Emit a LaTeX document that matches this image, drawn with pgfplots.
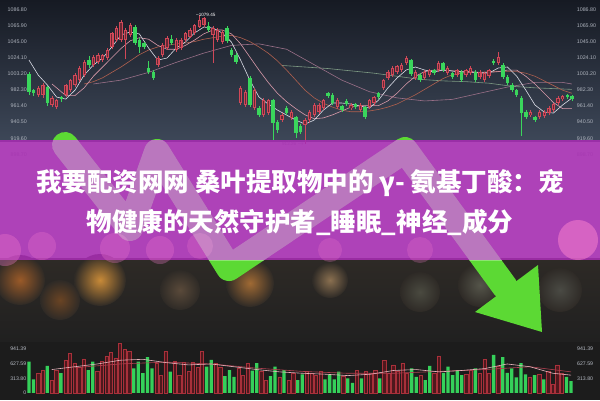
\documentclass[border=0pt]{standalone}
\usepackage{pgfplots}
\pgfplotsset{compat=1.18}
\usepackage{pgfplotstable}
\usepackage{fontspec}
\setmainfont{Liberation Sans}
\newfontfamily\cjk{Noto Sans CJK SC}
\definecolor{bgtop}{HTML}{161A23}
\definecolor{bgbot}{HTML}{3D4758}
\definecolor{bandc}{HTML}{A52DB0}
\definecolor{lowtop}{HTML}{2E2A26}
\definecolor{lowbot}{HTML}{202020}
\definecolor{volbg}{HTML}{1C1C1C}
\definecolor{cgreen}{HTML}{3AD65C}
\definecolor{cred}{HTML}{D04858}
\definecolor{cinner}{HTML}{6A2834}
\definecolor{arrowg}{HTML}{5CD934}
\definecolor{labc}{HTML}{AEB3BD}
\definecolor{mawhite}{HTML}{DADCE6}
\definecolor{mapink}{HTML}{D99AAA}
\definecolor{mabrown}{HTML}{B0604E}
\definecolor{mamauve}{HTML}{9A7088}
\definecolor{magreen}{HTML}{7E9A84}
\definecolor{vred}{HTML}{A8303A}
\definecolor{vredfill}{HTML}{4E181D}
\definecolor{vgreen}{HTML}{35D05A}
\definecolor{vma1}{HTML}{B04050}
\definecolor{vma2}{HTML}{E8B4BC}
\definecolor{bk1}{HTML}{9A5A28}
\definecolor{bk2}{HTML}{C88A38}
\definecolor{bk3}{HTML}{6A4424}
\definecolor{bk4}{HTML}{5A4A3A}
\definecolor{bk5}{HTML}{A06A34}
\definecolor{bk6}{HTML}{8A7050}
\definecolor{bk7}{HTML}{4A4A40}
\definecolor{bk8}{HTML}{55554A}
\definecolor{bk9}{HTML}{4A4A44}
\definecolor{pk1}{HTML}{F27ACD}
\definecolor{pk2}{HTML}{FF86CF}

\pgfplotstableread{
i t b h l
2 984.7 975.6 987 973
3 988.6 975.6 991 972
5 971.7 962.7 974 960
6 969.2 960.1 971 957
8 988.6 975.6 990 973
9 995.1 982.1 997 980
10 1001.6 988.6 1004 986
11 1010.7 995.1 1013 993
12 1018.4 1001.6 1021 999
14 1024.9 1014.6 1027 1012
15 1027.5 1018.4 1030 1016
16 1027.5 1021.0 1029 1019
17 1034.0 1023.6 1036 1021
18 1056.1 1037.9 1058 1035
19 1062.5 1047.0 1065 1045
20 1070.3 1047.0 1073 1044
21 1060.0 1047.0 1062 1023
22 1066.4 1053.5 1069 1051
28 1023.6 1014.6 1026 1012
29 1040.5 1027.5 1043 1025
30 1049.6 1036.6 1052 1034
32 1047.0 1034.0 1049 1032
33 1047.0 1036.6 1050 1034
34 1056.1 1047.0 1058 1045
35 1060.0 1050.9 1062 1049
36 1066.4 1056.1 1068 1054
37 1072.9 1063.8 1079.45 1062
38 1075.5 1066.4 1077 1064
40 1062.5 1053.5 1065 1017
41 1060.0 1047.0 1062 1045
42 1057.4 1044.4 1060 1042
46 984.7 965.3 987 963
47 979.5 962.7 982 960
49 982.1 958.8 985 956
51 969.2 949.7 972 947
52 969.2 952.3 971 950
55 949.7 943.2 952 941
57 953.6 945.8 956 943
60 943.2 936.7 946 912.26
61 953.6 943.2 956 940
62 962.7 949.7 965 947
63 962.7 953.6 965 951
64 969.2 958.8 971 956
67 969.2 960.1 972 958
70 962.7 958.8 965 956
72 962.7 956.2 965 954
74 969.2 960.1 971 957
75 973.0 965.3 975 963
77 995.1 984.7 997 982
78 1005.5 997.7 1008 995
79 1010.7 1001.6 1013 999
80 1013.3 1005.5 1015 1003
81 1014.6 1008.1 1017 1006
82 1023.6 1017.1 1026 1015
84 1005.5 997.7 1008 995
86 1005.5 997.7 1008 995
87 1008.1 1001.6 1010 999
89 1017.1 1008.1 1020 1006
91 1010.7 1004.2 1013 1002
93 1008.1 1001.6 1010 999
95 1008.1 1001.6 1010 999
96 1010.7 1004.2 1013 1002
98 1005.5 999.0 1008 997
99 1004.2 995.1 1006 993
100 1008.1 1000.3 1010 998
102 1024.9 1017.1 1031 1015
109 953.6 949.7 956 947
111 953.6 947.1 956 945
112 953.6 948.4 956 946
113 958.8 952.3 961 950
114 964.0 956.2 966 954
115 971.7 965.3 974 963
116 974.3 970.4 976 968
}\redc

\pgfplotstableread{
i t b h l
0 1002.9 979.5 1006 976
1 982.1 978.2 984 975
4 986.0 965.3 988 962
7 973.0 970.4 975 967
13 1021.0 1014.6 1026 1011
23 1063.8 1043.1 1067 1041
24 1047.0 1037.9 1049 1030
25 1043.1 1037.9 1045 1035
26 1010.7 1005.5 1020 1003
27 1005.5 997.7 1008 995
31 1048.3 1043.1 1053 1040
39 1065.1 1060.0 1070 1058
43 1062.5 1045.7 1065 1043
44 1034.0 1027.5 1036 1025
45 1027.5 1018.4 1030 1016
48 997.7 962.7 1000 960
50 958.8 949.7 961 947
53 969.2 939.3 971 917
54 940.6 930.3 943 927
56 958.8 952.3 961 950
58 947.1 926.4 949 920
59 935.4 927.7 938 925
65 978.2 974.3 980 972
66 975.6 965.3 978 963
68 961.4 956.2 963 954
69 967.9 964.0 970 962
71 964.0 960.1 966 958
73 960.1 947.1 962 945
76 978.2 973.0 980 971
83 1021.0 1002.9 1023 1000
85 1001.6 995.1 1004 993
88 1008.1 1004.2 1010 1002
90 1017.1 1008.1 1019 1006
92 1004.2 999.0 1006 997
94 1005.5 995.1 1008 993
97 1005.5 995.1 1008 993
101 1019.7 1017.1 1022 1015
103 1014.6 999.0 1017 997
104 999.0 991.2 1001 989
105 988.6 982.1 991 980
106 982.1 975.6 984 973
107 971.7 952.3 974 923
108 953.6 947.1 956 944
110 947.1 943.2 949 941
117 975.6 973.0 977 971
118 974.3 970.4 976 968
}\greenc

\pgfplotstableread{
j v
2 418
3 480
5 272
6 490
8 708
9 854
10 643
11 560
12 730
15 453
16 671
17 780
18 876
19 752
20 1056
21 926
22 889
28 636
29 381
30 889
32 671
33 381
34 650
35 453
36 650
37 540
38 889
41 636
42 540
46 527
47 381
48 636
51 453
52 272
55 344
57 272
58 418
61 453
62 418
63 381
64 453
69 360
72 475
74 453
75 418
76 490
78 693
79 418
80 600
81 453
82 636
83 418
86 381
89 418
90 795
96 400
97 490
99 418
100 723
101 418
103 562
110 344
112 400
114 453
115 190
116 600
117 430
}\redv

\pgfplotstableread{
j v
0 671
1 287
4 577
7 425
13 490
14 671
23 527
24 671
25 425
26 767
27 527
31 453
39 562
40 708
43 360
44 490
45 344
49 475
50 636
53 360
54 562
56 490
59 272
60 397
65 287
66 397
67 287
68 453
70 309
71 214
73 309
77 309
84 527
85 344
87 272
88 577
91 431
92 562
93 381
94 490
95 381
98 527
102 817
104 767
105 431
106 527
107 331
108 636
109 397
111 381
113 287
118 344
119 250
}\greenv

\pgfplotsset{
  canvas/.style={at={(0pt,0pt)}, anchor=south west, scale only axis,
    width=600pt, height=400pt, xmin=0, xmax=600, ymin=0, ymax=400,
    y dir=reverse, hide axis},
  pricebase/.style={anchor=south west, at={(27.62pt,230pt)}, scale only axis,
    width=546.48pt, height=170pt, xmin=-0.3, xmax=118.5, ymin=878.5, ymax=1098.85,
    axis line style={draw=none}, xtick=\empty, major tick length=0pt,
    ytick={898.7,919.6,940.5,961.4,982.3,1003.2,1024.1,1045,1065.9,1086.8},
    yticklabel style={font=\fontsize{5.3}{6}\selectfont, text=labc, inner sep=0pt},
    /pgf/number format/fixed, /pgf/number format/fixed zerofill,
    /pgf/number format/precision=2, /pgf/number format/1000 sep={},
    /pgf/number format/assume math mode=true},
  volbase/.style={anchor=south west, at={(27pt,3pt)}, scale only axis,
    width=547pt, height=55pt, xmin=-0.439, xmax=119.65, ymin=-90, ymax=1092,
    axis line style={draw=none}, xtick=\empty, major tick length=0pt,
    yticklabel style={font=\fontsize{5.2}{6}\selectfont, text=labc!90!white, inner sep=0pt},
    /pgf/number format/assume math mode=true},
  wick/.style={no markers, draw=none, forget plot, error bars/.cd, y dir=both, y explicit,
    error mark=none, error bar style={line width=0.6pt, draw=#1}},
  body/.style 2 args={no markers, draw=none, forget plot, error bars/.cd, y dir=both, y explicit,
    error mark=none, error bar style={line width=#2, draw=#1}},
}

\begin{document}
\begin{tikzpicture}
\path[use as bounding box] (0,0) rectangle (600pt,400pt);

% background
\begin{axis}[canvas]
\shade[top color=bgtop, bottom color=bgbot] (axis cs:0,0) rectangle (axis cs:600,141);
\shade[top color=lowtop, bottom color=lowbot] (axis cs:0,258) rectangle (axis cs:600,342);
\fill[volbg] (axis cs:0,342) rectangle (axis cs:600,400);
\shade[inner color=bk1, outer color=lowtop] (axis cs:20,280) circle[radius=25];
\shade[inner color=bk2, outer color=lowtop] (axis cs:100,280) circle[radius=26];
\shade[inner color=bk3, outer color=lowtop] (axis cs:60,300) circle[radius=20];
\shade[inner color=bk4, outer color=lowtop] (axis cs:180,290) circle[radius=20];
\shade[inner color=bk5, outer color=lowtop] (axis cs:250,283) circle[radius=24];
\shade[inner color=bk6, outer color=lowtop] (axis cs:330,280) circle[radius=18];
\shade[inner color=bk7, outer color=lowtop] (axis cs:420,292) circle[radius=20];
\shade[inner color=bk8, outer color=lowtop] (axis cs:480,285) circle[radius=22];
\shade[inner color=bk9, outer color=lowtop] (axis cs:560,290) circle[radius=22];
\end{axis}

% price panel (left labels, candles, averages)
\begin{axis}[pricebase, yticklabel pos=left, clip=false,
  yticklabel style={anchor=east, xshift=-0.6pt}]
\addplot[magreen, line width=0.6pt] coordinates {(55,1014) (60,1012) (65,1010) (70,1007) (75,1004) (80,1000) (85,996) (90,994) (95,993) (100,991) (105,987) (110,985) (118,983)};
\addplot[mamauve, line width=0.6pt] coordinates {(14,990) (20,995) (26,1005) (32,1018) (38,1030) (44,1040) (50,1042) (56,1035) (62,1015) (68,995) (74,980) (80,972) (86,968) (92,970) (98,978) (104,986) (110,992) (116,992) (118,990)};
\addplot[mabrown, line width=0.6pt] coordinates {(12,990) (14,993) (16,998) (18,1005) (20,1012) (22,1020) (24,1028) (26,1034) (28,1038) (30,1040) (32,1042) (34,1043) (36,1045) (38,1048) (40,1050) (42,1052) (44,1053) (46,1050) (48,1045) (50,1038) (52,1030) (54,1020) (56,1008) (58,995) (60,982) (62,972) (64,965) (66,960) (68,956) (70,954) (72,954) (74,955) (76,957) (78,960) (80,964) (82,970) (84,976) (86,983) (88,990) (90,997) (92,1002) (94,1004) (96,1005) (98,1005) (100,1006) (102,1006) (104,1006) (106,1006) (108,1004) (110,1000) (112,994) (114,988) (116,982) (118,978)};
\addplot[mapink, line width=0.6pt] coordinates {(5,990) (8,975) (10,975) (12,985) (14,1000) (16,1012) (18,1024) (20,1036) (22,1046) (24,1050) (26,1048) (28,1040) (30,1035) (32,1035) (34,1040) (36,1047) (38,1055) (40,1060) (42,1060) (44,1055) (46,1042) (48,1025) (50,1008) (52,992) (54,978) (56,967) (58,958) (60,950) (62,945) (64,946) (66,950) (68,955) (70,960) (72,962) (74,962) (76,962) (78,968) (80,978) (82,990) (84,1000) (86,1006) (88,1008) (90,1008) (92,1007) (94,1006) (96,1006) (98,1005) (100,1005) (102,1006) (104,1008) (106,1008) (108,1000) (110,990) (112,978) (114,966) (116,958) (118,958)};
\addplot[mawhite, line width=0.6pt] coordinates {(0,1021) (2,1001.6) (4,988.6) (6,973) (8,970.4) (10,982) (12,1001.6) (14,1014.6) (16,1023.6) (18,1037.9) (20,1053.5) (22,1057.4) (24,1054.8) (26,1036.6) (28,1021) (30,1023.6) (32,1036.6) (34,1044.4) (36,1056.1) (38,1063.8) (40,1062.5) (42,1056.1) (44,1044.4) (46,1021) (48,995.1) (50,973) (52,964) (54,956.2) (56,949.7) (58,943.2) (60,938) (62,943.2) (64,956.2) (66,965.3) (68,965.3) (70,964) (72,961.4) (74,958.8) (76,969.2) (78,984.7) (80,997.7) (82,1008.1) (84,1012) (86,1008.1) (88,1005.5) (90,1008.1) (92,1006.8) (94,1005.5) (96,1005.5) (98,1004.2) (100,1004.2) (102,1010.7) (104,1012) (106,1000.3) (108,982.1) (110,962.7) (112,953.6) (114,952.3) (116,962.7) (118,971.7)};
\addplot[wick=cred] table[x=i, y expr={(\thisrow{h}+\thisrow{l})/2}, y error expr={(\thisrow{h}-\thisrow{l})/2}] {\redc};
\addplot[wick=cgreen] table[x=i, y expr={(\thisrow{h}+\thisrow{l})/2}, y error expr={(\thisrow{h}-\thisrow{l})/2}] {\greenc};
\addplot[body={cred}{3.4pt}] table[x=i, y expr={(\thisrow{t}+\thisrow{b})/2}, y error expr={(\thisrow{t}-\thisrow{b})/2}] {\redc};
\addplot[body={cinner}{1.2pt}] table[x=i, y expr={(\thisrow{t}+\thisrow{b})/2}, y error expr={max((\thisrow{t}-\thisrow{b})/2-1.0,0.01)}] {\redc};
\addplot[body={cgreen}{3.4pt}] table[x=i, y expr={(\thisrow{t}+\thisrow{b})/2}, y error expr={(\thisrow{t}-\thisrow{b})/2}] {\greenc};
\node[anchor=west, inner sep=0.5pt, text=white, font=\fontsize{4.6}{5}\selectfont] at (axis cs:36.2,1079.45) {\textendash 1079.45};
\node[anchor=east, inner sep=0.5pt, text=labc, font=\fontsize{4.6}{5}\selectfont] at (axis cs:60,912.26) {912.26 $\rightarrow$};
\end{axis}

\begin{axis}[pricebase, yticklabel pos=right,
  yticklabel style={anchor=west, xshift=2.6pt}]
\end{axis}

% volume panel
\begin{axis}[volbase, yticklabel pos=left,
  ytick={0,313.8,627.59,941.39}, yticklabels={0,313.80,627.59,941.39},
  yticklabel style={anchor=east, xshift=-0.6pt}]
\addplot[ybar, bar width=3.3pt, bar shift=0pt, fill=vredfill, draw=vred, line width=0.5pt] table[x=j, y=v] {\redv};
\addplot[ybar, bar width=3.3pt, bar shift=0pt, fill=vgreen, draw=none] table[x=j, y=v] {\greenv};
\addplot[vma1, line width=0.6pt] coordinates {(10,540) (20,620) (30,660) (40,620) (50,530) (60,460) (70,420) (80,420) (90,460) (100,500) (110,560) (119,450)};
\addplot[vma2, line width=0.6pt] coordinates {(5,500) (10,560) (15,620) (20,700) (25,720) (30,650) (35,600) (40,620) (45,560) (50,500) (55,450) (60,420) (65,400) (70,370) (75,400) (80,480) (85,500) (90,450) (95,480) (100,520) (105,620) (110,560) (115,420) (119,380)};
\end{axis}
\begin{axis}[volbase, yticklabel pos=right,
  ytick={313.8,627.59,941.39}, yticklabels={313.80,627.59,941.39},
  yticklabel style={anchor=west, xshift=3pt}]
\end{axis}

% arrow and band
\begin{axis}[canvas]
\addplot[arrowg, line width=26pt, line cap=round, line join=round] coordinates {(65,145) (130,228) (157,152) (229,268) (405,150) (505,287)};
\addplot[fill=arrowg, draw=none] coordinates {(475,312) (538,265) (542,332)} -- cycle;
\fill[bandc, fill opacity=0.9] (axis cs:0,140) rectangle (axis cs:600,260);
\fill[pk1, fill opacity=0.35] (axis cs:5,250) circle[radius=16];
\fill[pk1, fill opacity=0.3] (axis cs:42,246) circle[radius=14];
\fill[pk1, fill opacity=0.3] (axis cs:115,248) circle[radius=15];
\fill[pk1, fill opacity=0.3] (axis cs:160,250) circle[radius=14];
\fill[pk1, fill opacity=0.25] (axis cs:200,246) circle[radius=13];
\fill[pk1, fill opacity=0.25] (axis cs:330,250) circle[radius=12];
\fill[pk1, fill opacity=0.25] (axis cs:420,250) circle[radius=13];
\fill[pk2, fill opacity=0.5] (axis cs:578,240) circle[radius=20];
\end{axis}

% pale arrow through band, and title
\begin{axis}[at={(0pt,140pt)}, anchor=south west, scale only axis, width=600pt, height=120pt,
  xmin=0, xmax=600, ymin=140, ymax=260, y dir=reverse, hide axis]
\addplot[white, opacity=0.3, line width=26pt, line cap=round, line join=round] coordinates {(65,145) (130,228) (157,152) (229,268) (405,150) (505,287)};
\node[anchor=base, text=white, inner sep=0pt, font=\cjk\bfseries\fontsize{25.5}{30}\selectfont] at (axis cs:300,191.7) {我要配资网网 桑叶提取物中的 γ- 氨基丁酸：宠};
\node[anchor=base, text=white, inner sep=0pt, font=\cjk\bfseries\fontsize{25.5}{30}\selectfont] at (axis cs:300,231.7) {物健康的天然守护者\_睡眠\_神经\_成分};
\end{axis}
\end{tikzpicture}
\end{document}
